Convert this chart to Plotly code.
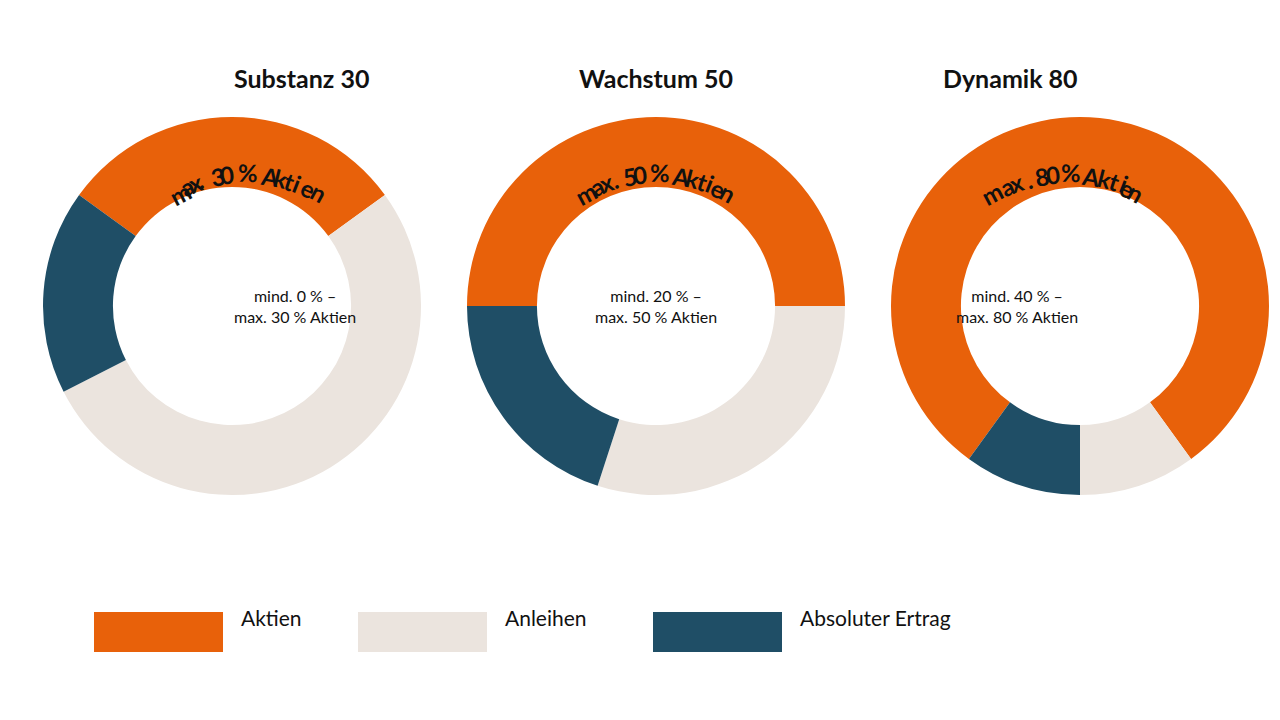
import math
import plotly.graph_objects as go

titles = ["Substanz 30", "Wachstum 50", "Dynamik 80"]
categories = ["Aktien", "Anleihen", "Absoluter Ertrag"]
aktien = [30, 50, 80]
anleihen = [52.5, 30, 10]
ertrag = [17.5, 20, 10]
arc_labels = ["max. 30 % Aktien", "max. 50 % Aktien", "max. 80 % Aktien"]
center_labels = ["mind. 0 % –<br>max. 30 % Aktien", "mind. 20 % –<br>max. 50 % Aktien",
                 "mind. 40 % –<br>max. 80 % Aktien"]
colors = ["#E8610A", "#EBE4DE", "#1F4E66"]
FONT = "Lato"

W, H = 1280, 720
centers = [224, 648, 1072]
cy, r_out = 298, 189

fig = go.Figure()
for i in range(3):
    cx = centers[i]
    fig.add_trace(go.Pie(
        labels=categories, values=[aktien[i], anleihen[i], ertrag[i]],
        marker=dict(colors=colors, line=dict(width=0)), hole=0.63, sort=False,
        direction="clockwise", rotation=-aktien[i] * 1.8, textinfo="none",
        hoverinfo="label+value", showlegend=False,
        domain=dict(x=[(cx - r_out) / W, (cx + r_out) / W],
                    y=[1 - (cy + r_out) / H, 1 - (cy - r_out) / H])))
    fig.add_annotation(x=cx / W, y=1 - 53 / H, xref="paper", yref="paper", showarrow=False,
                       text="<b>" + titles[i] + "</b>", font=dict(size=25, color="#111", family=FONT))
    fig.add_annotation(x=cx / W, y=1 - cy / H, xref="paper", yref="paper", showarrow=False,
                       text=center_labels[i], font=dict(size=16, color="#111", family=FONT))
    # curved label along the orange arc
    txt = arc_labels[i]
    widths = [0.42 if c in ". il" else (0.85 if c == "%" else 0.6) for c in txt]
    widths = [w * 1.35 if c in "mAK" else w for c, w in zip(txt, widths)]
    rr = 150
    char_px = 17
    total = sum(widths) * char_px
    span = total / rr
    pos = -span / 2
    for c, w in zip(txt, widths):
        a = pos + w * char_px / 2 / rr
        pos += w * char_px / rr
        if c == " ":
            continue
        px = cx + rr * math.sin(a)
        py = cy - rr * math.cos(a)
        fig.add_annotation(x=px / W, y=1 - py / H, xref="paper", yref="paper", showarrow=False,
                           text="<b>" + c + "</b>", textangle=math.degrees(a),
                           font=dict(size=24, color="#111", family=FONT))

legend_x = [86, 350, 645]
for j, cat in enumerate(categories):
    x0 = legend_x[j]
    fig.add_shape(type="rect", xref="paper", yref="paper", x0=x0 / W, x1=(x0 + 129) / W,
                  y0=1 - 644 / H, y1=1 - 604 / H, fillcolor=colors[j], line=dict(width=0))
    fig.add_annotation(x=(x0 + 145) / W, y=1 - 624 / H, xref="paper", yref="paper",
                       xanchor="left", showarrow=False, text=cat,
                       font=dict(size=21, color="#111", family=FONT))

fig.update_layout(width=W, height=H, margin=dict(l=0, r=0, t=0, b=0, pad=0, autoexpand=False),
                  showlegend=False, paper_bgcolor="white", plot_bgcolor="white")
fig.write_html("out.html")
